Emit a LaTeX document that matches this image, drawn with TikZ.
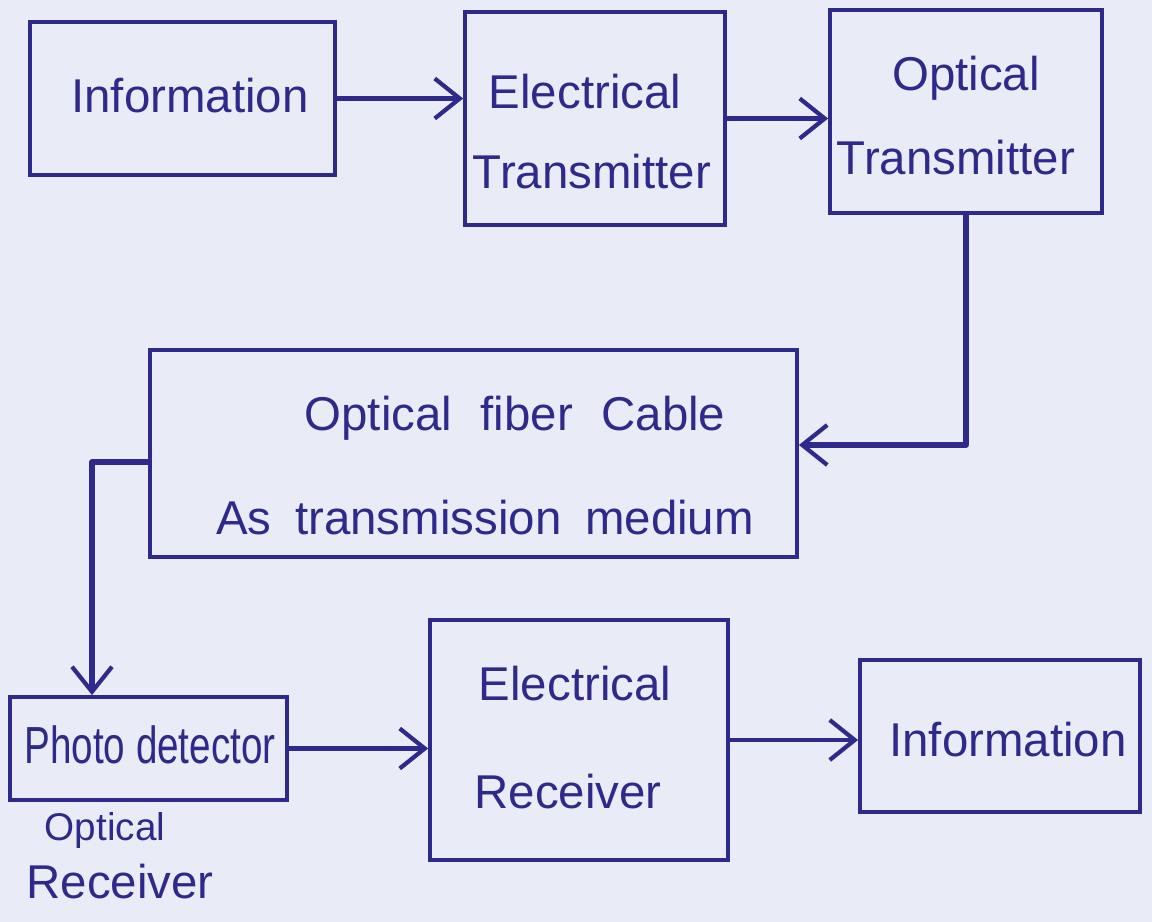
\documentclass[tikz,border=0pt]{standalone}
\usepackage{fontspec}
\setmainfont{Liberation Sans}
\usetikzlibrary{arrows.meta}
\definecolor{ink}{HTML}{2E2A8C}
\definecolor{paper}{HTML}{E9EBF6}
\begin{document}
\begin{tikzpicture}[x=0.02cm,y=-0.02cm,
  blockbox/.style={draw=ink, line width=2.2pt, inner sep=0pt},
  conn/.style={draw=ink, line width=2.6pt, line cap=round, line join=round,
    -{Straight Barb[length=5mm,width=8mm,line width=2.4pt]}},
  lbl/.style={text=ink, inner sep=0pt, font=\fontsize{27}{32}\selectfont},
  lblnarrow/.style={text=ink, inner sep=0pt, font=\fontsize{22}{26}\selectfont},
  lblsmall/.style={text=ink, inner sep=0pt, font=\fontsize{22}{26}\selectfont}]
  % sheet of paper
  \fill[paper] (0,0) rectangle (1152,922);
  \useasboundingbox (0,0) rectangle (1152,922);

  % blocks
  \node[blockbox, minimum width=6.1cm, minimum height=3.06cm] (info1) at (182.5,98.5) {};
  \node[blockbox, minimum width=5.2cm, minimum height=4.26cm] (etx) at (595,118.5) {};
  \node[blockbox, minimum width=5.44cm, minimum height=4.06cm] (otx) at (966,111.5) {};
  \node[blockbox, minimum width=12.94cm, minimum height=4.14cm] (fiber) at (473.5,453.5) {};
  \node[blockbox, minimum width=5.54cm, minimum height=2.06cm] (pd) at (148.5,748.5) {};
  \node[blockbox, minimum width=5.96cm, minimum height=4.8cm] (erx) at (579,740) {};
  \node[blockbox, minimum width=5.6cm, minimum height=3.04cm] (info2) at (1000,736) {};

  % block texts
  \node[lbl] (t1) at (190,96) {Information};
  \node[lbl] (t2a) at (585,92) {Electrical};
  \node[lbl] (t2b) at (592,172) {Transmitter};
  \node[lbl] (t3a) at (966,78) {Optical};
  \node[lbl] (t3b) at (956,158) {Transmitter};
  \node[lbl] (t4a) at (515,418) {Optical\hspace{0.6em}fiber\hspace{0.6em}Cable};
  \node[lbl] (t4b) at (485,518) {As\hspace{0.5em}transmission\hspace{0.5em}medium};
  \node[lblnarrow] (t5) at (150,745) {\scalebox{1}[1.35]{Photo detector}};
  \node[lbl] (t6a) at (575,684) {Electrical};
  \node[lbl] (t6b) at (568,792) {Receiver};
  \node[lbl] (t7) at (1008,740) {Information};

  % caption under the photodetector
  \node[lblsmall] (c1) at (105,830) {Optical};
  \node[lbl] (c2) at (120,882) {Receiver};

  % signal path
  \coordinate (bend1) at (966,445);
  \coordinate (bend2) at (92,462);
  \draw[conn] (info1.east) -- (info1.east -| etx.west);
  \draw[conn] (etx.east) -- (etx.east -| otx.west);
  \draw[conn, line width=3.2pt] (otx.south) -- (bend1) -- (bend1 -| fiber.east);
  \draw[conn, line width=3.2pt] (bend2 -| fiber.west) -- (bend2) -- (bend2 |- pd.north);
  \draw[conn] (pd.east) -- (pd.east -| erx.west);
  \draw[conn] (erx.east) -- (erx.east -| info2.west);
\end{tikzpicture}
\end{document}
